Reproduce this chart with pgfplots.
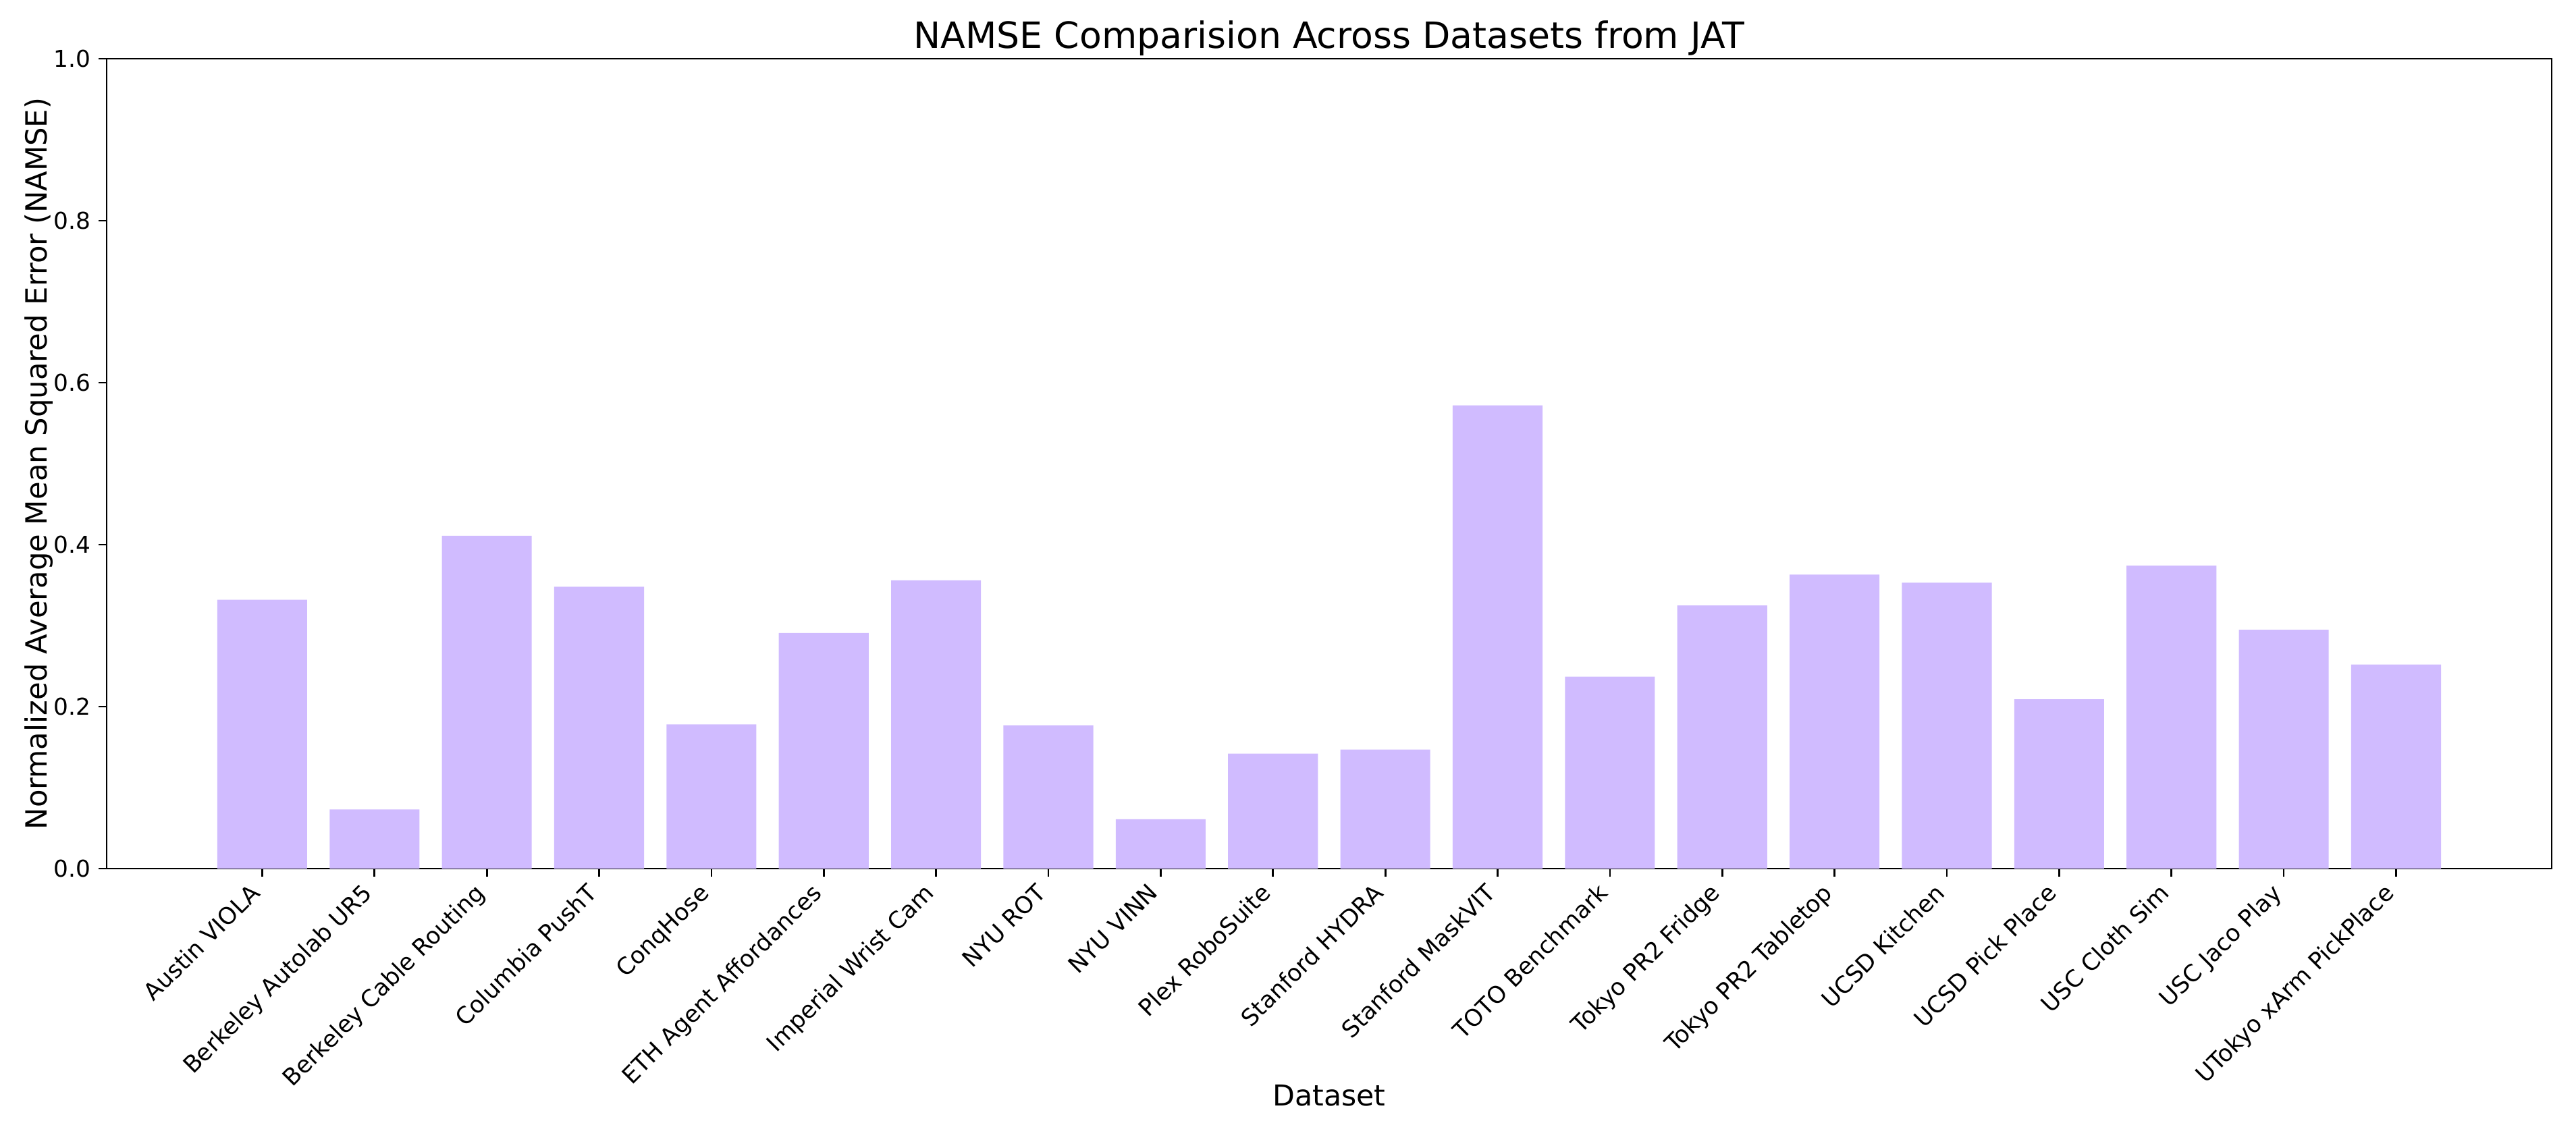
\documentclass[border=0pt]{standalone}
\usepackage{fontspec}
\setmainfont{DejaVu Sans}
\usepackage{pgfplots}
\pgfplotsset{compat=1.18}
\definecolor{barpurple}{HTML}{D0BBFF}

\begin{document}
\begin{tikzpicture}
  % page size fixed to the reference proportions (3.333 px per pt)
  \useasboundingbox (-47.4pt,-111.9pt) rectangle (1097.4pt,386.1pt);
  \begin{axis}[
    at={(0,0)}, anchor=south west,
    scale only axis,
    width=1086.6pt, height=360pt,
    xmin=-1.385, xmax=20.385,
    ymin=0, ymax=1,
    axis line style={line width=0.8pt},
    tick align=outside,
    xtick pos=bottom, ytick pos=left,
    major tick length=3.5pt,
    every tick/.style={black, line width=0.8pt},
    xtick=data,
    xticklabels={Austin VIOLA, Berkeley Autolab UR5, Berkeley Cable Routing,
      Columbia PushT, ConqHose, ETH Agent Affordances, Imperial Wrist Cam,
      NYU ROT, NYU VINN, Plex RoboSuite, Stanford HYDRA, Stanford MaskVIT,
      TOTO Benchmark, Tokyo PR2 Fridge, Tokyo PR2 Tabletop, UCSD Kitchen,
      UCSD Pick Place, USC Cloth Sim, USC Jaco Play, UTokyo xArm PickPlace},
    x tick label style={font=\fontsize{10.4}{12}\selectfont,
      xshift=-6pt, yshift=-0.8pt, rotate=45, anchor=north east, inner sep=1pt},
    ytick={0,0.2,...,1.0},
    y tick label style={font=\fontsize{10.3}{12}\selectfont},
    yticklabel style={/pgf/number format/.cd, fixed, precision=1, zerofill},
    /pgf/number format/assume math mode=true,
    title={NAMSE Comparision Across Datasets from JAT},
    title style={font=\fontsize{16.1}{19}\selectfont,
      at={(axis description cs:0.5,1)}, anchor=base, yshift=-1.5pt},
    xlabel={Dataset},
    xlabel style={font=\fontsize{12.8}{15}\selectfont,
      at={(axis description cs:0.5,0)}, anchor=base, yshift=-105.3pt},
    ylabel={Normalized Average Mean Squared Error (NAMSE)},
    ylabel style={font=\fontsize{13}{15}\selectfont,
      at={(axis description cs:-0.02457,0.5)}, anchor=base},
  ]
    \addplot[ybar, bar width=0.8, fill=barpurple, draw=none] coordinates {
      (0,0.332) (1,0.073) (2,0.411) (3,0.348) (4,0.178)
      (5,0.291) (6,0.356) (7,0.177) (8,0.061) (9,0.142)
      (10,0.147) (11,0.572) (12,0.237) (13,0.325) (14,0.363)
      (15,0.353) (16,0.209) (17,0.374) (18,0.295) (19,0.252)
    };
  \end{axis}
\end{tikzpicture}
\end{document}
